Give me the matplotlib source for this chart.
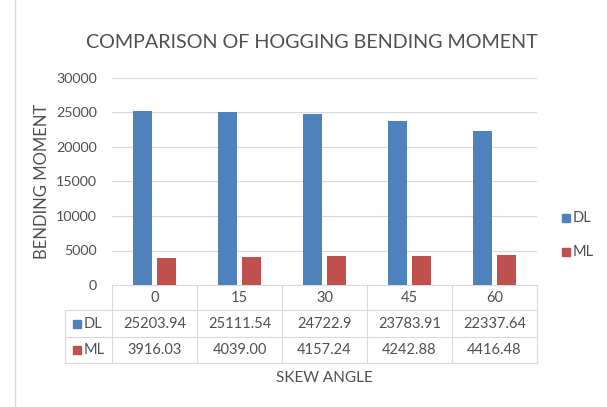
import matplotlib
matplotlib.use("Agg")
import matplotlib.pyplot as plt
from matplotlib.lines import Line2D
from matplotlib.patches import Rectangle

angles = ["0", "15", "30", "45", "60"]
dl = [25203.94, 25111.54, 24722.9, 23783.91, 22337.64]
ml = [3916.03, 4039.00, 4157.24, 4242.88, 4416.48]
dl_txt = ["25203.94", "25111.54", "24722.9", "23783.91", "22337.64"]
ml_txt = ["3916.03", "4039.00", "4157.24", "4242.88", "4416.48"]
yticks = [0, 5000, 10000, 15000, 20000, 25000, 30000]

blue = "#4F81BD"
red = "#C0504D"
txt = "#505050"
grid = "#D9D9D9"

plt.rcParams["font.family"] = ["Lato", "DejaVu Sans"]

W, H = 607, 407
fig = plt.figure(figsize=(W / 100, H / 100), dpi=100)

# axes in pixel box
x0, x1, ytop, ybot = 112, 537, 78, 285
ax = fig.add_axes([x0 / W, 1 - ybot / H, (x1 - x0) / W, (ybot - ytop) / H])

xs = range(len(angles))
w = 0.225
ax.bar([x - 0.138 for x in xs], dl, width=w, color=blue, zorder=3)
ax.bar([x + 0.138 for x in xs], ml, width=w, color=red, zorder=3)

ax.set_xlim(-0.5, len(angles) - 0.5)
ax.set_ylim(0, 30000)
ax.set_yticks(yticks)
ax.set_yticklabels([str(v) for v in yticks], color=txt, fontsize=10.3)
ax.tick_params(axis="y", length=0, pad=11)
ax.set_xticks([])
ax.grid(axis="y", color=grid, linewidth=0.8, zorder=0)
for s in ["top", "right", "left"]:
    ax.spines[s].set_visible(False)
ax.spines["bottom"].set_color(grid)

ax.set_ylabel("BENDING MOMENT", color=txt, fontsize=12, labelpad=4)

# data table below the axes (pixel rows)
def fy(py):
    return 1 - py / H

def fx(px):
    return px / W

rows = [285, 310, 337, 363]
left = 65
bounds = [x0 + i * (x1 - x0) / len(angles) for i in range(len(angles) + 1)]
lc = dict(color=grid, linewidth=0.8)
for r in rows[1:]:
    fig.add_artist(Line2D([fx(left), fx(x1)], [fy(r), fy(r)], **lc))
fig.add_artist(Line2D([fx(left), fx(left)], [fy(rows[1]), fy(rows[3])], **lc))
for b in bounds:
    fig.add_artist(Line2D([fx(b), fx(b)], [fy(rows[0]), fy(rows[3])], **lc))

fs = 10.5
for i, a in enumerate(angles):
    cx = fx((bounds[i] + bounds[i + 1]) / 2)
    fig.text(cx, fy((rows[0] + rows[1]) / 2), a, ha="center", va="center",
             color=txt, fontsize=fs)
    fig.text(cx, fy((rows[1] + rows[2]) / 2), dl_txt[i], ha="center", va="center",
             color=txt, fontsize=fs)
    fig.text(cx, fy((rows[2] + rows[3]) / 2), ml_txt[i], ha="center", va="center",
             color=txt, fontsize=fs)

for k, (name, c) in enumerate([("DL", blue), ("ML", red)]):
    yc = (rows[k + 1] + rows[k + 2]) / 2
    fig.add_artist(Rectangle((fx(73), fy(yc + 4)), 8 / W, 8 / H, color=c,
                             transform=fig.transFigure))
    fig.text(fx(84), fy(yc), name, ha="left", va="center", color=txt, fontsize=fs)

fig.text(fx((x0 + x1) / 2), fy(378), "SKEW ANGLE", ha="center", va="center",
         color=txt, fontsize=11)

# legend on the right
for name, c, yc in [("DL", blue, 218), ("ML", red, 252)]:
    fig.add_artist(Rectangle((fx(562), fy(yc + 4)), 8 / W, 8 / H, color=c,
                             transform=fig.transFigure))
    fig.text(fx(573), fy(yc), name, ha="left", va="center", color=txt, fontsize=fs)

fig.text(fx(312), fy(42), "COMPARISON OF HOGGING BENDING MOMENT", ha="center",
         va="center", color=txt, fontsize=14.2)

# chart border on the left
fig.add_artist(Line2D([fx(15), fx(15)], [0, 1], color=grid, linewidth=1))

fig.savefig("out.png", dpi=100)
